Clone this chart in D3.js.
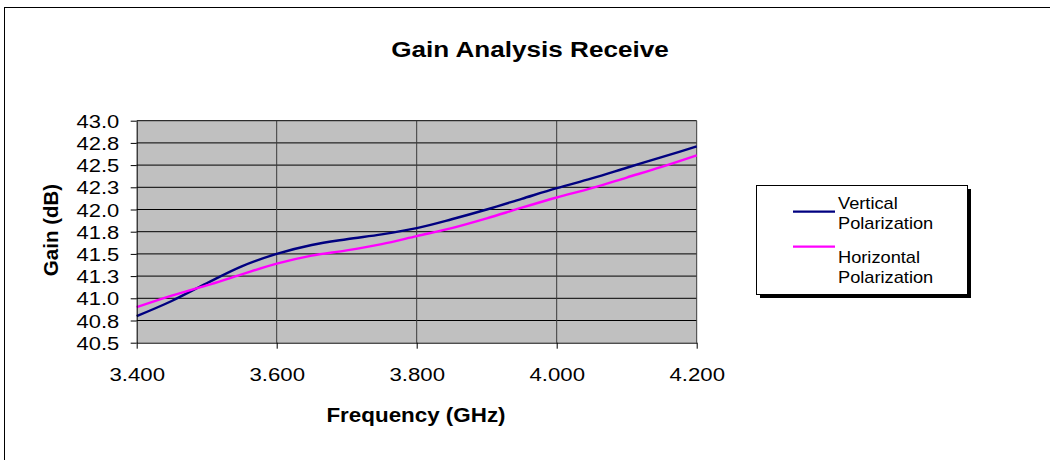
<!DOCTYPE html>
<html>
<head>
<meta charset="utf-8">
<script src="https://cdn.jsdelivr.net/npm/d3@7"></script>
<style>
  html, body { margin: 0; padding: 0; background: #fff; }
  svg { display: block; }
  text { font-family: "Liberation Sans", Arial, sans-serif; fill: #000; }
</style>
</head>
<body>
<svg id="chart" width="1050" height="460"></svg>
<script>
// Frequency points (GHz)
const frequency = [3.40, 3.45, 3.50, 3.55, 3.60, 3.65, 3.70, 3.75, 3.80,
                   3.85, 3.90, 3.95, 4.00, 4.05, 4.10, 4.15, 4.20];
// Receive gain (dB) for each polarization
const verticalGain = [40.80, 40.97, 41.17, 41.36, 41.50, 41.60, 41.665, 41.72, 41.79,
                      41.89, 42.00, 42.12, 42.24, 42.35, 42.47, 42.59, 42.71];
const horizontalGain = [40.90, 41.03, 41.145, 41.27, 41.39, 41.48, 41.54, 41.61, 41.70,
                        41.79, 41.90, 42.02, 42.135, 42.24, 42.36, 42.48, 42.61];
const seriesNames = ["Vertical Polarization", "Horizontal Polarization"];

// Axis ticks and their printed labels
const xTicks = [3.4, 3.6, 3.8, 4.0, 4.2];
const xTickLabels = ["3.400", "3.600", "3.800", "4.000", "4.200"];
const yTicks = [40.5, 40.75, 41.0, 41.25, 41.5, 41.75, 42.0, 42.25, 42.5, 42.75, 43.0];
const yTickLabels = ["40.5", "40.8", "41.0", "41.3", "41.5", "41.8", "42.0", "42.3", "42.5", "42.8", "43.0"];

const colors = ["#000080", "#FF00FF"];

const svg = d3.select("#chart");
const plot = { left: 136.7, right: 696.7, top: 120.7, bottom: 342.7 };

const x = d3.scaleLinear().domain([3.4, 4.2]).range([plot.left, plot.right]);
const y = d3.scaleLinear().domain([40.5, 43.0]).range([plot.bottom, plot.top]);

// Text in this chart is drawn slightly wide; apply a horizontal stretch around the anchor.
function placeText(sel, px, py, k) {
  sel.attr("x", 0).attr("y", 0)
     .attr("transform", `translate(${px},${py}) scale(${k},1)`);
}

// Outer chart frame
svg.append("rect")
  .attr("x", 4.5).attr("y", 7.5)
  .attr("width", 1100).attr("height", 500)
  .attr("fill", "none").attr("stroke", "#000").attr("stroke-width", 1);

// Title
svg.append("text")
  .attr("text-anchor", "middle")
  .style("font-size", "22.5px").style("font-weight", "bold")
  .text("Gain Analysis Receive")
  .call(placeText, 530, 56.5, 1.16);

// Plot background
svg.append("rect")
  .attr("x", plot.left).attr("y", plot.top)
  .attr("width", plot.right - plot.left).attr("height", plot.bottom - plot.top)
  .attr("fill", "#C0C0C0");

// Horizontal gridlines
svg.append("g")
  .selectAll("line")
  .data(yTicks.filter(v => v > 40.5))
  .join("line")
  .attr("x1", plot.left).attr("x2", plot.right)
  .attr("y1", d => y(d)).attr("y2", d => y(d))
  .attr("stroke", "#000").attr("stroke-width", 1);

// Vertical gridlines (including right border of plot)
svg.append("g")
  .selectAll("line")
  .data(xTicks.filter(v => v > 3.4))
  .join("line")
  .attr("x1", d => x(d)).attr("x2", d => x(d))
  .attr("y1", plot.top).attr("y2", plot.bottom)
  .attr("stroke", "#3a3a3a").attr("stroke-width", 1);

// Series lines
const line = d3.line()
  .x((d, i) => x(frequency[i]))
  .y(d => y(d))
  .curve(d3.curveMonotoneX);

[verticalGain, horizontalGain].forEach((vals, i) => {
  svg.append("path")
    .datum(vals)
    .attr("d", line)
    .attr("fill", "none")
    .attr("stroke", colors[i])
    .attr("stroke-width", 2.4)
    .attr("stroke-linejoin", "round");
});

// Y axis
const yAxisG = svg.append("g")
  .attr("transform", `translate(${plot.left},0)`)
  .call(d3.axisLeft(y).tickValues(yTicks)
    .tickFormat((d, i) => yTickLabels[i])
    .tickSize(6).tickSizeOuter(0));
yAxisG.select(".domain").attr("stroke", "#000");
yAxisG.selectAll(".tick line").attr("stroke", "#000");
yAxisG.selectAll(".tick text")
  .attr("dy", null)
  .style("font-size", "18px")
  .style("font-family", "'Liberation Sans', Arial, sans-serif")
  .attr("text-anchor", "end")
  .each(function () { d3.select(this).call(placeText, -17.5, 6.5, 1.22); });

// X axis
const xAxisG = svg.append("g")
  .attr("transform", `translate(0,${plot.bottom})`)
  .call(d3.axisBottom(x).tickValues(xTicks)
    .tickFormat((d, i) => xTickLabels[i])
    .tickSize(6).tickSizeOuter(0));
xAxisG.select(".domain").attr("stroke", "#000");
xAxisG.selectAll(".tick line").attr("stroke", "#000");
xAxisG.selectAll(".tick text")
  .attr("dy", null)
  .style("font-size", "18.5px")
  .style("font-family", "'Liberation Sans', Arial, sans-serif")
  .attr("text-anchor", "middle")
  .each(function () { d3.select(this).call(placeText, 0, 38, 1.2); });

// Axis titles
svg.append("text")
  .attr("text-anchor", "middle")
  .style("font-size", "20px").style("font-weight", "bold")
  .text("Frequency (GHz)")
  .call(placeText, 416, 422, 1.12);

svg.append("text")
  .attr("text-anchor", "middle")
  .attr("transform", "translate(57.5,230) rotate(-90)")
  .style("font-size", "20.5px").style("font-weight", "bold")
  .text("Gain (dB)");

// Legend
const legend = { x: 756, y: 185, w: 211, h: 109 };
svg.append("rect")
  .attr("x", legend.x + 4).attr("y", legend.y + 4)
  .attr("width", legend.w).attr("height", legend.h)
  .attr("fill", "#000");
svg.append("rect")
  .attr("x", legend.x + 0.5).attr("y", legend.y + 0.5)
  .attr("width", legend.w).attr("height", legend.h)
  .attr("fill", "#fff").attr("stroke", "#000").attr("stroke-width", 1);

const legendRows = seriesNames.map((name, i) => {
  const words = name.split(" ");
  return { color: colors[i], lines: words, lineY: legend.y + 26.7 + i * 35 };
});

legendRows.forEach((row, i) => {
  svg.append("line")
    .attr("x1", legend.x + 37).attr("x2", legend.x + 79)
    .attr("y1", row.lineY).attr("y2", row.lineY)
    .attr("stroke", row.color).attr("stroke-width", 2.3);
  row.lines.forEach((txt, j) => {
    svg.append("text")
      .style("font-size", "16px")
      .text(txt)
      .call(placeText, legend.x + 82, legend.y + 24.3 + i * 53.4 + j * 20, 1.14);
  });
});
</script>
</body>
</html>
